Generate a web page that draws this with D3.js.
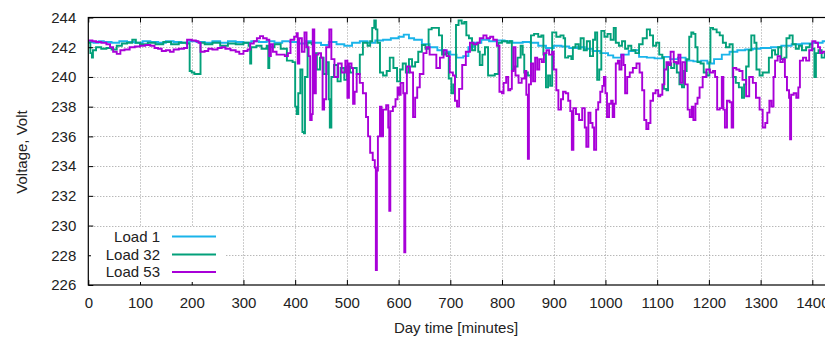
<!DOCTYPE html>
<html>
<head>
<meta charset="utf-8">
<script src="https://cdn.jsdelivr.net/npm/d3@7"></script>
<style>
  body { margin: 0; background: #fff; }
  svg text { font-family: "Liberation Sans", Arial, sans-serif; fill: #222; }
</style>
</head>
<body>
<div id="chart"></div>
<script>
// series: [minute, volt]
const load1 = [[0,242.35],[10,242.3],[20,242.4],[30,242.35],[45,242.3],[60,242.4],[75,242.35],[90,242.3],[105,242.4],[120,242.35],[135,242.3],[150,242.4],[165,242.35],[180,242.3],[195,242.4],[210,242.35],[225,242.3],[240,242.4],[255,242.3],[270,242.4],[285,242.35],[300,242.3],[315,242.4],[330,242.35],[345,242.4],[360,242.3],[375,242.4],[390,242.35],[405,242.25],[420,242.4],[435,242.3],[450,242.15],[465,242.35],[480,242.2],[495,242.1],[510,242.3],[525,242.4],[540,242.3],[555,242.45],[570,242.5],[585,242.6],[600,242.7],[610,242.85],[620,242.6],[630,242.5],[645,242.2],[660,242.0],[675,241.8],[690,241.7],[700,241.5],[712,241.3],[725,241.4],[735,242.0],[745,242.3],[760,242.5],[775,242.4],[790,242.45],[805,242.4],[820,242.3],[840,242.35],[855,242.3],[870,242.1],[885,241.95],[900,242.1],[915,242.05],[930,241.95],[945,242.0],[960,241.9],[975,241.75],[990,241.6],[1005,241.45],[1015,241.3],[1030,241.5],[1045,241.75],[1055,241.8],[1065,241.35],[1080,241.3],[1095,241.25],[1110,241.35],[1125,241.2],[1140,241.3],[1155,241.1],[1170,241.05],[1185,241.1],[1197,240.9],[1210,241.2],[1225,241.5],[1240,241.7],[1255,241.8],[1270,241.85],[1285,241.9],[1300,241.95],[1320,242.0],[1340,242.1],[1360,242.2],[1380,242.25],[1400,242.3],[1420,242.4],[1440,242.35]];

const load32 = [[0,242.3],[4,241.6],[7,241.3],[9,241.8],[15,242.0],[25,241.9],[35,241.95],[45,241.85],[55,242.1],[65,242.25],[75,242.3],[85,242.5],[92,242.3],[100,242.2],[115,242.3],[130,242.2],[145,242.35],[160,242.2],[175,242.3],[190,242.25],[196,240.4],[200,240.3],[205,240.2],[212,240.2],[217,242.3],[225,242.2],[240,242.3],[255,242.1],[270,242.25],[285,242.2],[300,242.3],[310,242.1],[313,240.9],[315,242.0],[325,242.1],[335,241.9],[345,242.1],[348,240.6],[350,242.0],[360,242.2],[372,241.9],[384,241.1],[395,241.0],[400,238.0],[403,237.5],[406,238.9],[410,240.5],[414,236.3],[417,236.2],[419,240.0],[424,242.3],[432,242.2],[436,241.6],[442,240.5],[448,241.3],[455,240.2],[461,241.0],[465,238.5],[467,236.6],[470,240.0],[475,240.8],[482,239.7],[488,240.6],[495,239.8],[500,240.7],[506,240.3],[512,240.6],[519,240.2],[525,241.5],[531,242.3],[540,242.1],[545,242.4],[549,243.3],[553,243.8],[556,243.2],[559,242.3],[564,240.3],[570,240.1],[577,240.4],[583,241.3],[590,240.6],[597,239.7],[603,240.5],[608,240.9],[614,240.3],[620,241.2],[626,240.7],[632,241.0],[638,241.7],[645,242.15],[652,241.9],[658,243.2],[664,243.3],[672,243.3],[678,242.8],[684,241.5],[690,241.6],[697,239.9],[702,238.9],[706,239.5],[709,240.0],[711,243.5],[716,243.8],[722,243.6],[727,243.7],[731,242.8],[736,242.6],[742,241.8],[748,242.2],[754,241.7],[757,240.8],[762,241.5],[767,242.0],[773,240.1],[786,240.2],[793,242.3],[800,242.4],[810,242.3],[815,242.4],[819,240.5],[825,240.7],[830,241.3],[836,242.1],[840,241.5],[843,240.3],[850,240.1],[856,242.8],[862,242.9],[870,242.7],[876,242.8],[880,241.5],[885,239.3],[889,240.1],[893,239.4],[897,243.0],[905,242.7],[913,242.8],[919,242.6],[922,241.3],[928,241.4],[934,241.2],[937,242.0],[942,242.2],[948,241.9],[952,242.6],[958,241.8],[964,242.4],[970,241.4],[976,242.5],[980,243.0],[984,239.8],[988,240.5],[992,243.1],[998,242.7],[1004,242.9],[1010,242.5],[1016,243.3],[1020,242.3],[1026,242.1],[1032,242.4],[1038,241.9],[1044,242.1],[1050,241.8],[1058,241.6],[1065,242.2],[1072,242.6],[1080,243.2],[1086,242.8],[1092,242.1],[1098,242.3],[1104,241.5],[1110,241.3],[1113,239.2],[1118,239.1],[1121,240.9],[1127,240.6],[1133,241.0],[1138,240.3],[1143,239.5],[1148,239.3],[1152,240.4],[1157,241.2],[1162,242.7],[1166,243.0],[1170,242.9],[1174,242.0],[1178,241.0],[1184,240.9],[1190,240.3],[1196,240.1],[1201,241.0],[1203,243.3],[1208,243.2],[1215,243.0],[1221,242.8],[1227,242.3],[1233,242.0],[1240,242.2],[1246,240.0],[1252,239.6],[1258,239.3],[1264,238.6],[1268,239.5],[1272,240.7],[1277,241.8],[1282,242.8],[1288,242.3],[1292,240.5],[1298,240.1],[1304,240.3],[1310,240.3],[1316,241.3],[1322,241.8],[1328,241.5],[1334,242.0],[1340,241.2],[1346,241.3],[1350,242.6],[1356,242.8],[1362,242.2],[1368,241.9],[1374,242.1],[1380,241.8],[1388,242.0],[1395,242.2],[1400,241.9],[1404,240.0],[1407,241.6],[1412,241.8],[1418,241.3],[1424,241.6],[1430,241.4],[1440,241.5]];

const load53 = [[0,242.45],[8,242.4],[15,242.35],[25,242.3],[35,242.2],[42,242.0],[48,241.7],[55,241.55],[62,241.8],[70,241.85],[80,242.0],[90,242.05],[100,242.1],[110,242.15],[120,242.1],[128,241.95],[135,241.9],[142,241.75],[150,241.8],[158,241.7],[165,241.85],[175,241.9],[185,241.95],[191,242.5],[200,242.45],[208,242.4],[213,242.3],[217,241.7],[225,241.75],[232,241.9],[240,241.85],[250,241.95],[258,242.0],[265,241.9],[275,241.8],[285,241.7],[292,241.55],[300,241.75],[308,241.85],[313,242.25],[320,242.4],[326,242.6],[332,242.75],[338,242.6],[345,242.5],[350,241.4],[353,242.2],[357,241.7],[364,241.5],[372,241.5],[380,241.4],[386,241.6],[391,242.5],[398,242.7],[403,242.95],[405,240.9],[408,242.6],[413,241.7],[418,243.0],[422,242.0],[426,241.4],[429,237.1],[432,237.5],[434,243.2],[437,238.9],[440,241.5],[445,241.6],[450,241.3],[453,237.8],[456,238.5],[460,242.0],[466,243.2],[470,241.2],[476,240.0],[483,240.9],[490,240.3],[497,241.1],[501,238.6],[504,240.9],[509,240.6],[512,238.2],[515,239.0],[519,240.2],[525,239.6],[531,238.9],[537,237.3],[541,236.0],[545,234.9],[550,234.4],[554,233.9],[556,227.0],[558,233.7],[560,236.0],[564,238.0],[567,236.0],[570,237.8],[576,238.1],[580,236.6],[582,231.0],[584,237.7],[589,238.0],[594,238.5],[598,239.3],[601,238.8],[604,239.6],[609,238.9],[611,228.2],[613,238.9],[616,240.7],[622,240.3],[628,237.3],[632,238.6],[636,239.3],[641,240.2],[648,241.6],[654,242.0],[660,241.5],[667,241.5],[673,240.6],[680,241.3],[687,241.8],[693,241.4],[699,240.3],[705,240.1],[709,238.4],[713,238.0],[717,239.2],[723,240.8],[730,241.7],[738,242.3],[745,242.2],[752,242.3],[757,242.6],[764,242.8],[770,242.6],[777,242.7],[783,242.5],[790,242.1],[795,239.0],[800,238.9],[803,239.6],[808,240.0],[812,239.1],[816,239.2],[819,240.4],[822,242.0],[826,240.1],[832,239.6],[838,239.9],[844,240.4],[847,238.8],[850,234.5],[852,239.5],[856,240.9],[860,239.7],[864,241.3],[868,240.5],[872,241.2],[877,241.0],[881,241.6],[886,241.8],[891,241.5],[897,241.7],[900,240.5],[905,239.1],[909,237.8],[914,238.5],[918,239.0],[923,238.9],[928,238.4],[932,237.7],[935,235.1],[938,237.9],[943,237.5],[949,237.1],[955,237.9],[960,236.6],[963,235.3],[967,237.6],[971,236.9],[975,236.6],[978,235.1],[982,237.8],[986,238.3],[990,239.0],[994,239.4],[997,240.0],[1000,238.9],[1003,237.3],[1007,238.2],[1011,238.4],[1014,237.3],[1017,238.2],[1020,240.9],[1024,241.1],[1027,240.5],[1031,241.5],[1035,240.8],[1038,238.9],[1042,240.0],[1047,240.3],[1053,240.6],[1060,240.9],[1066,240.3],[1071,239.1],[1075,237.1],[1079,236.5],[1083,236.9],[1087,238.4],[1092,238.9],[1097,239.1],[1102,238.7],[1106,238.8],[1110,239.5],[1114,240.5],[1118,241.0],[1122,240.8],[1126,241.7],[1132,241.0],[1137,240.9],[1141,241.5],[1145,239.6],[1149,241.0],[1154,239.5],[1159,237.8],[1163,237.3],[1167,238.0],[1170,237.1],[1174,238.2],[1178,238.6],[1182,239.3],[1188,240.0],[1195,240.5],[1202,240.3],[1208,240.4],[1212,240.0],[1216,237.8],[1221,237.9],[1225,240.0],[1228,237.8],[1231,236.6],[1235,238.4],[1240,238.3],[1244,236.6],[1247,240.6],[1253,240.5],[1259,240.4],[1265,239.8],[1272,238.7],[1278,240.0],[1285,239.6],[1291,238.6],[1298,237.8],[1304,236.6],[1309,236.9],[1313,237.6],[1317,238.4],[1321,238.0],[1325,240.0],[1328,241.1],[1333,241.4],[1338,241.0],[1343,241.2],[1347,240.0],[1351,239.1],[1355,238.6],[1357,235.8],[1359,238.8],[1364,238.9],[1369,238.6],[1373,239.3],[1376,241.1],[1382,241.3],[1388,241.1],[1394,241.8],[1400,242.4],[1406,242.3],[1411,242.0],[1415,241.6],[1420,241.7],[1426,241.5],[1432,241.7],[1440,241.6]];

const seriesNames = ['Load 1', 'Load 32', 'Load 53']
const seriesColors = ['#1ab4ea', '#03a07a', '#a800d8']
const xTicks = [0,100,200,300,400,500,600,700,800,900,1000,1100,1200,1300,1400]
const yTicks = [226,228,230,232,234,236,238,240,242,244]

const W = 825, H = 340
const plotLeft = 88.3, plotTop = 17.5, plotBottom = 285, plotRight = 833

const svg = d3.select('#chart').append('svg')
  .attr('width', W)
  .attr('height', H)

const x = d3.scaleLinear().domain([0, 1440]).range([plotLeft, plotRight])
const y = d3.scaleLinear().domain([226, 244]).range([plotBottom, plotTop])

// grid
const grid = svg.append('g')
  .attr('stroke', '#9a9a9a')
  .attr('stroke-width', 1)
  .attr('stroke-dasharray', '1,2')
grid.selectAll('.gx').data(xTicks.slice(1)).enter().append('line')
  .attr('x1', d => Math.round(x(d)) + 0.5).attr('x2', d => Math.round(x(d)) + 0.5)
  .attr('y1', plotTop).attr('y2', plotBottom)
grid.selectAll('.gy').data(yTicks.slice(1, -1)).enter().append('line')
  .attr('x1', plotLeft).attr('x2', plotRight)
  .attr('y1', d => Math.round(y(d)) + 0.5).attr('y2', d => Math.round(y(d)) + 0.5)

// lines
svg.append('clipPath').attr('id', 'plotclip')
  .append('rect').attr('x', plotLeft).attr('y', plotTop)
  .attr('width', plotRight - plotLeft).attr('height', plotBottom - plotTop)

const line = d3.line()
  .x(d => x(d[0]))
  .y(d => y(d[1]))
  .curve(d3.curveStepAfter)

const allSeries = [load1, load32, load53]
svg.append('g').attr('clip-path', 'url(#plotclip)')
  .selectAll('path').data(allSeries).enter().append('path')
  .attr('d', d => line(d))
  .attr('fill', 'none')
  .attr('stroke', (d, i) => seriesColors[i])
  .attr('stroke-width', 1.9)

// axes
const fmt = d3.format('d')
const xAxis = svg.append('g')
  .attr('transform', 'translate(0,' + plotBottom + ')')
  .call(d3.axisBottom(x).tickValues(xTicks).tickFormat(fmt).tickSizeInner(-5).tickSizeOuter(0).tickPadding(12))
const xTop = svg.append('g')
  .attr('transform', 'translate(0,' + plotTop + ')')
  .call(d3.axisTop(x).tickValues(xTicks).tickFormat('').tickSizeInner(-5).tickSizeOuter(0))
const yAxis = svg.append('g')
  .attr('transform', 'translate(' + plotLeft + ',0)')
  .call(d3.axisLeft(y).tickValues(yTicks).tickFormat(fmt).tickSizeInner(-5).tickSizeOuter(0).tickPadding(12))
;[xAxis, xTop, yAxis].forEach(g => {
  g.select('.domain').remove()
  g.selectAll('line').attr('stroke', '#000')
  g.selectAll('text').attr('font-size', 15).attr('fill', '#222')
    .style('font-family', '"Liberation Sans", Arial, sans-serif')
})

// frame
svg.append('rect')
  .attr('x', plotLeft).attr('y', plotTop)
  .attr('width', plotRight - plotLeft).attr('height', plotBottom - plotTop)
  .attr('fill', 'none').attr('stroke', '#000').attr('stroke-width', 1.2)

// axis titles
svg.append('text')
  .attr('transform', 'translate(27,152) rotate(-90)')
  .attr('text-anchor', 'middle')
  .attr('font-size', 15)
  .text('Voltage, Volt')
svg.append('text')
  .attr('x', 456).attr('y', 333)
  .attr('text-anchor', 'middle')
  .attr('font-size', 15)
  .text('Day time [minutes]')

// legend
const legend = svg.append('g')
legend.append('rect')
  .attr('x', 91).attr('y', 227).attr('width', 134).attr('height', 55)
  .attr('fill', '#fff')
const rowY = [236.5, 254.5, 272]
seriesNames.forEach((name, i) => {
  legend.append('text')
    .attr('x', 160).attr('y', rowY[i] + 5)
    .attr('text-anchor', 'end')
    .attr('font-size', 15)
    .text(name)
  legend.append('line')
    .attr('x1', 172).attr('x2', 216)
    .attr('y1', rowY[i]).attr('y2', rowY[i])
    .attr('stroke', seriesColors[i])
    .attr('stroke-width', 2)
})
</script>
</body>
</html>
